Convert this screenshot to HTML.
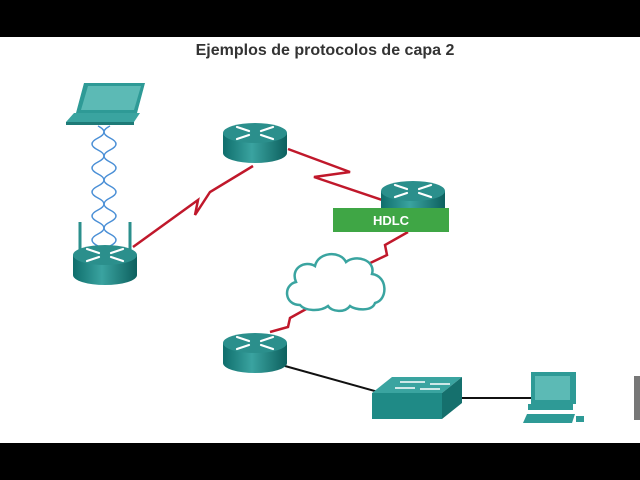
<!DOCTYPE html>
<html><head><meta charset="utf-8"><style>
html,body{margin:0;padding:0;background:#000;}
svg{display:block}
</style></head><body>
<svg width="640" height="480" viewBox="0 0 640 480" xmlns="http://www.w3.org/2000/svg">
<defs>
<linearGradient id="rb" x1="0" x2="1" y1="0" y2="0">
<stop offset="0" stop-color="#0f6e6c"/><stop offset="0.45" stop-color="#3aa3a0"/><stop offset="1" stop-color="#0d605e"/>
</linearGradient>
<g id="router">
<path d="M-32,0 L-32,20 A32,10 0 0 0 32,20 L32,0 Z" fill="url(#rb)"/>
<ellipse cx="0" cy="0" rx="32" ry="10" fill="#2b8f8c"/>
<g stroke="#fff" stroke-width="2.2" stroke-linecap="round">
<line x1="-18" y1="-6" x2="-6" y2="-2"/><line x1="18" y1="6" x2="6" y2="2"/>
<line x1="18" y1="-6" x2="6" y2="-2"/><line x1="-18" y1="6" x2="-6" y2="2"/>
</g>
</g>
</defs>
<rect x="0" y="0" width="640" height="480" fill="#000"/>
<rect x="0" y="37" width="640" height="406" fill="#fff"/>
<text x="325" y="55" text-anchor="middle" font-family="Liberation Sans, sans-serif" font-weight="bold" font-size="16" fill="#333">Ejemplos de protocolos de capa 2</text>

<g fill="none" stroke="#4a8fd6" stroke-width="1.5">
<path d="M98,126 q12,6 0,12 q-12,6 0,12 q12,6 0,12 q-12,6 0,12 q12,6 0,12 q-12,6 0,12 q12,6 0,12 q-12,6 0,12 q12,6 0,12 q-12,6 0,12"/>
<path d="M110,126 q-12,6 0,12 q12,6 0,12 q-12,6 0,12 q12,6 0,12 q-12,6 0,12 q12,6 0,12 q-12,6 0,12 q12,6 0,12 q-12,6 0,12 q12,6 0,12"/>
</g>
<polygon points="84,83 145,83 137,113 76,113" fill="#2e9a96"/>
<polygon points="88,86 141,86 134,110 81,110" fill="#5cbab5"/>
<polygon points="74,113 140,113 134,122 66,122" fill="#3aa4a0"/>
<rect x="66" y="122" width="68" height="3" fill="#1e7a77"/>

<g fill="none" stroke="#c0182b" stroke-width="2.5">
<polyline points="133,247 198,200 195,215 210,192 253,166"/>
<polyline points="288,149 350,172 314,177 382,200"/>
<polyline points="408,232 385,245 387,255 364,266"/>
<polyline points="308,308 290,318 288,327 270,332"/>
</g>
<g stroke="#111" stroke-width="2"><line x1="285" y1="366" x2="382" y2="393"/><line x1="460" y1="398" x2="532" y2="398"/></g>
<g stroke="#2b8f8c" stroke-width="3"><line x1="80" y1="222" x2="80" y2="256"/><line x1="130" y1="222" x2="130" y2="256"/></g>

<use href="#router" x="105" y="255"/>
<use href="#router" x="255" y="133"/>
<use href="#router" x="413" y="191"/>
<use href="#router" x="255" y="343"/>

<rect x="333" y="208" width="116" height="24" fill="#3fa645"/>
<text x="391" y="225" text-anchor="middle" font-family="Liberation Sans, sans-serif" font-weight="bold" font-size="13" fill="#fff">HDLC</text>

<path d="M300,305 C284,305 283,285 296,282 C290,268 305,260 315,266 C318,252 340,250 346,262 C356,254 376,260 372,274 C388,276 388,300 375,303 C372,312 355,310 350,306 C345,313 332,312 328,306 C320,312 305,311 300,305 Z" fill="#fff" stroke="#3aa4a0" stroke-width="2.5"/>

<polygon points="372,393 392,377 462,377 442,393" fill="#3aa4a0"/>
<polygon points="372,393 442,393 442,419 372,419" fill="#1f8a86"/>
<polygon points="442,393 462,377 462,403 442,419" fill="#15706d"/>
<g stroke="#fff" stroke-width="1.5"><line x1="400" y1="382" x2="425" y2="382"/><line x1="430" y1="384" x2="450" y2="384"/><line x1="395" y1="388" x2="415" y2="388"/><line x1="420" y1="389" x2="440" y2="389"/></g>

<rect x="531" y="372" width="45" height="32" fill="#2e9a96"/>
<rect x="535" y="376" width="35" height="24" fill="#5cbab5"/>
<rect x="528" y="404" width="45" height="6" fill="#2e9a96"/>
<polygon points="527,414 575,414 572,423 523,423" fill="#2e9a96"/>
<rect x="576" y="416" width="8" height="6" fill="#2e9a96"/>
<rect x="634" y="376" width="6" height="44" fill="#777"/>
</svg>
</body></html>
